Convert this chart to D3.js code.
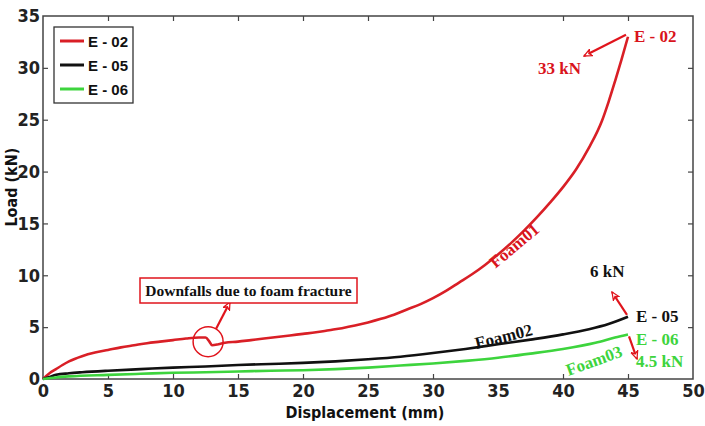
<!DOCTYPE html>
<html>
<head>
<meta charset="utf-8">
<script src="https://cdn.jsdelivr.net/npm/d3@7"></script>
<style>
body { margin: 0; background: #fff; }
.tick text, .axtitle { font-family: "DejaVu Sans Condensed", "DejaVu Sans", sans-serif; font-stretch: condensed; font-weight: bold; fill: #222; }
.tick text { font-size: 18px; }
.axtitle { font-size: 16px; fill: #111; }
.tick line { stroke: #444; stroke-width: 1.2; }
.domain { display: none; }
.ann { font-family: "Liberation Serif", "Times New Roman", serif; font-weight: bold; font-size: 17px; }
</style>
</head>
<body>
<script>
// displacement (mm) / load (kN)
var e02 = [[0,0],[0.5,0.55],[1,0.95],[1.5,1.35],[2,1.7],[3,2.2],[4,2.55],[5,2.8],[6,3.05],[7,3.25],[8,3.45],
  [9,3.6],[10,3.75],[11,3.9],[12,4.0],[12.5,4.0],[12.8,3.6],[13,3.25],[13.5,3.35],[14,3.5],[15,3.6],[16,3.75],
  [17,3.9],[18,4.05],[19,4.2],[20,4.35],[21,4.5],[22,4.7],[23,4.9],[24,5.15],[25,5.45],[26,5.8],[27,6.2],
  [28,6.7],[29,7.2],[30,7.8],[31,8.5],[32,9.3],[33,10.1],[34,11.0],[35,12.0],[36,13.1],[37,14.3],[38,15.6],
  [39,17.0],[40,18.5],[41,20.2],[42,22.3],[43,24.9],[43.5,26.7],[44,28.7],[44.5,30.8],[45,33]];
var e05 = [[0,0],[0.5,0.2],[1,0.4],[2,0.55],[3,0.65],[5,0.8],[7.5,0.95],[10,1.1],[12.5,1.2],[15,1.35],
  [17.5,1.45],[20,1.55],[22.5,1.7],[25,1.9],[27.5,2.15],[30,2.5],[32.5,2.9],[35,3.35],[37.5,3.8],[40,4.3],
  [42,4.8],[43.5,5.3],[45,6.0]];
var e06 = [[0,0],[1,0.15],[2,0.25],[5,0.4],[7.5,0.5],[10,0.6],[12.5,0.65],[15,0.72],[17.5,0.8],[20,0.85],
  [22.5,0.95],[25,1.1],[27.5,1.3],[30,1.5],[32.5,1.75],[35,2.05],[37.5,2.45],[40,2.9],[42.5,3.5],[44,4.0],[45,4.3]];

var seriesNames = ["E - 02", "E - 05", "E - 06"];
var seriesColors = ["#d91f26", "#111111", "#3dd43d"];
var xTicks = d3.range(0, 51, 5);
var yTicks = d3.range(0, 36, 5);

var W = 705, H = 426;
var x = d3.scaleLinear().domain([0, 50]).range([43, 693]);
var y = d3.scaleLinear().domain([0, 35]).range([379, 16]);

var svg = d3.select("body").append("svg").attr("width", W).attr("height", H);

// axes, MATLAB style ticks pointing inward on all four sides
svg.append("g").attr("transform", "translate(0," + y(0) + ")")
  .call(d3.axisBottom(x).tickValues(xTicks).tickSize(-5).tickSizeOuter(0).tickPadding(5));
svg.append("g").attr("transform", "translate(0," + y(35) + ")")
  .call(d3.axisTop(x).tickValues(xTicks).tickSize(-5).tickSizeOuter(0).tickFormat(""));
svg.append("g").attr("transform", "translate(" + x(0) + ",0)")
  .call(d3.axisLeft(y).tickValues(yTicks).tickSize(-5).tickSizeOuter(0).tickPadding(3));
svg.append("g").attr("transform", "translate(" + x(50) + ",0)")
  .call(d3.axisRight(y).tickValues(yTicks).tickSize(-5).tickSizeOuter(0).tickFormat(""));
svg.selectAll(".tick line").filter(function(d){ return d === 0 || d === 50 || d === 35; }).remove();

svg.append("rect").attr("x", x(0)).attr("y", y(35))
  .attr("width", x(50) - x(0)).attr("height", y(0) - y(35))
  .attr("fill", "none").attr("stroke", "#444").attr("stroke-width", 1.5);

// axis titles
svg.append("text").attr("class", "axtitle").attr("x", 365).attr("y", 418).attr("text-anchor", "middle")
  .text("Displacement (mm)");
svg.append("text").attr("class", "axtitle").attr("transform", "translate(17," + y(18.5) + ") rotate(-90)")
  .attr("text-anchor", "middle").text("Load (kN)");

// curves
var line = d3.line().x(function(d){ return x(d[0]); }).y(function(d){ return y(d[1]); }).curve(d3.curveMonotoneX);
[e02, e05, e06].forEach(function(s, i) {
  svg.append("path").datum(s).attr("d", line).attr("fill", "none")
    .attr("stroke", seriesColors[i]).attr("stroke-width", 2.6).attr("stroke-linejoin", "round");
});

// legend
var leg = svg.append("g");
leg.append("rect").attr("x", 54).attr("y", 27).attr("width", 79).attr("height", 76)
  .attr("fill", "#fff").attr("stroke", "#333").attr("stroke-width", 1.3);
seriesNames.forEach(function(n, i) {
  var ly = 41 + i * 24;
  leg.append("line").attr("x1", 60).attr("x2", 84).attr("y1", ly).attr("y2", ly)
    .attr("stroke", seriesColors[i]).attr("stroke-width", 3);
  leg.append("text").attr("x", 88).attr("y", ly + 5.5)
    .style("font-family", "'Liberation Sans', Arial, sans-serif").style("font-weight", "bold")
    .style("font-size", "15px").attr("fill", "#111").text(n);
});

// arrow marker (open head)
svg.append("defs").append("marker").attr("id", "ah").attr("viewBox", "0 0 10 10")
  .attr("refX", 9).attr("refY", 5).attr("markerWidth", 9).attr("markerHeight", 9)
  .attr("markerUnits", "userSpaceOnUse").attr("orient", "auto")
  .append("path").attr("d", "M0,1 L9,5 L0,9 L3,5 Z").attr("fill", "#fff").attr("stroke", "#e0141c").attr("stroke-width", 1.4);

function arrow(x1, y1, x2, y2) {
  svg.append("line").attr("x1", x1).attr("y1", y1).attr("x2", x2).attr("y2", y2)
    .attr("stroke", "#e0141c").attr("stroke-width", 2.2).attr("marker-end", "url(#ah)");
}
function label(t, px, py, col, rot, anchor) {
  svg.append("text").attr("class", "ann")
    .attr("transform", "translate(" + px + "," + py + ")" + (rot ? " rotate(" + rot + ")" : ""))
    .attr("text-anchor", anchor || "start").attr("fill", col).text(t);
}

var red = "#d9141c", grn = "#3dd43d";
// E-02 peak
arrow(x(45) - 2, y(33) - 2, 584, 56);
label("E - 02", 634, 42, red);
label("33 kN", 538, 74, red);
label("Foam01", 518, 250, red, -40, "middle");

// E-05 end
arrow(x(45) - 1, y(6.0) - 2, 612, 292);
label("6 kN", 590, 277, "#111");
label("E - 05", 636, 322, "#111");
label("Foam02", 505, 342, "#111", -14, "middle");

// E-06 end
arrow(x(45) + 1, y(4.3) + 2, 637, 359);
label("E - 06", 636, 345, grn);
label("4.5 kN", 636, 367, grn);
label("Foam03", 596, 366, grn, -20, "middle");

// fracture callout
svg.append("circle").attr("cx", x(12.7)).attr("cy", y(3.6)).attr("r", 15)
  .attr("fill", "none").attr("stroke", "#e0141c").attr("stroke-width", 1.5);
arrow(x(12.7) + 8, y(3.6) - 13, 230, 302);
svg.append("rect").attr("x", 140).attr("y", 278).attr("width", 217).attr("height", 25)
  .attr("fill", "#fff").attr("stroke", "#e0141c").attr("stroke-width", 1.5);
svg.append("text").attr("class", "ann").attr("x", 248.5).attr("y", 296).attr("text-anchor", "middle")
  .attr("fill", "#111").style("font-size", "15.5px").text("Downfalls due to foam fracture");
</script>
</body>
</html>
